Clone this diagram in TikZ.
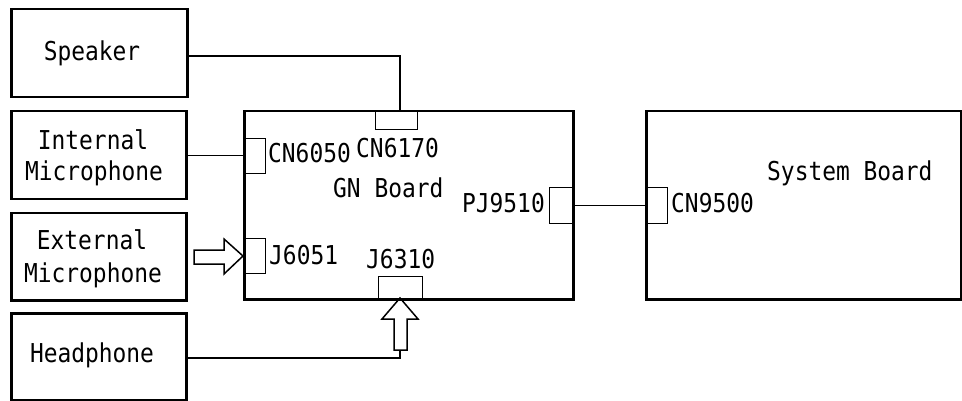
\documentclass[tikz,border=0pt]{standalone}
\usepackage{fontspec}
\setmainfont[FakeStretch=0.88]{DejaVu Sans Mono}
\begin{document}
\begin{tikzpicture}[x=1pt,y=-1pt,
  box/.style={draw, line width=2.5pt, anchor=north west, inner sep=0pt},
  conn/.style={draw, line width=1.2pt, anchor=north west, inner sep=0pt},
  wire/.style={line width=1.2pt},
  openarrow/.style={draw, line width=1.5pt, line join=miter},
  lbl/.style={font=\fontsize{26}{30}\selectfont, inner sep=0pt}]
\fill[white] (0,0) rectangle (962,401);
\useasboundingbox (0,0) rectangle (962,401);

% main boxes
\node[box, minimum width=176pt, minimum height=88pt] (spk) at (10,8) {};
\node[box, minimum width=175pt, minimum height=88pt] (imic) at (10,110) {};
\node[box, minimum width=175pt, minimum height=87pt] (emic) at (10,212) {};
\node[box, minimum width=175pt, minimum height=87pt] (hp) at (10,312) {};
\node[box, minimum width=329pt, minimum height=188pt] (gn) at (243,110) {};
\node[box, minimum width=315pt, minimum height=188pt] (sys) at (645,110) {};

% connectors
\node[conn, minimum width=42pt, minimum height=19pt] (cn6170) at (375,110) {};
\node[conn, minimum width=22pt, minimum height=35pt] (cn6050) at (243,138) {};
\node[conn, minimum width=22pt, minimum height=35pt] (j6051) at (243,238) {};
\node[conn, minimum width=44pt, minimum height=22pt] (j6310) at (378,276) {};
\node[conn, minimum width=23pt, minimum height=36pt] (pj9510) at (549,187) {};
\node[conn, minimum width=22pt, minimum height=36pt] (cn9500) at (645,187) {};

% box texts
\node[lbl, anchor=base] (tspk) at (92,61) {Speaker};
\node[lbl, anchor=base] (timic1) at (93,150) {Internal};
\node[lbl, anchor=base] (timic2) at (94,181) {Microphone};
\node[lbl, anchor=base] (temic1) at (92,250) {External};
\node[lbl, anchor=base] (temic2) at (93,282) {Microphone};
\node[lbl, anchor=base] (thp) at (92,362) {Headphone};

% labels
\node[lbl, anchor=base west] (lcn6050) at (268,163) {CN6050};
\node[lbl, anchor=base west] (lcn6170) at (356,158) {CN6170};
\node[lbl, anchor=base west] (lgn) at (333,198) {GN Board};
\node[lbl, anchor=base east] (lpj) at (545,213) {PJ9510};
\node[lbl, anchor=base west] (lcn9500) at (671,213) {CN9500};
\node[lbl, anchor=base west] (lsys) at (767,181) {System Board};
\node[lbl, anchor=base west] (lj6051) at (269,264) {J6051};
\node[lbl, anchor=base west] (lj6310) at (366,268) {J6310};

% wires
\coordinate (spkout) at (186,56);
\coordinate (cn6170in) at (400,110);
\draw[wire] (spkout) -| (cn6170in);
\draw[wire] (imic.east) -- (imic.east -| gn.west);
\draw[wire] (pj9510.east) -- (cn9500.west);
\coordinate (hpout) at (185,358);
\coordinate (upbot) at (400,350);
\draw[wire] (hpout) -| (upbot);

% open arrows
\draw[openarrow] (194,250) -- (224,250) -- (224,239) -- (243,256) -- (224,274) -- (224,264) -- (194,264) -- cycle;
\draw[openarrow] (400,298) -- (418,319) -- (407,319) -- (407,350) -- (394,350) -- (394,319) -- (382,319) -- cycle;
\end{tikzpicture}
\end{document}
